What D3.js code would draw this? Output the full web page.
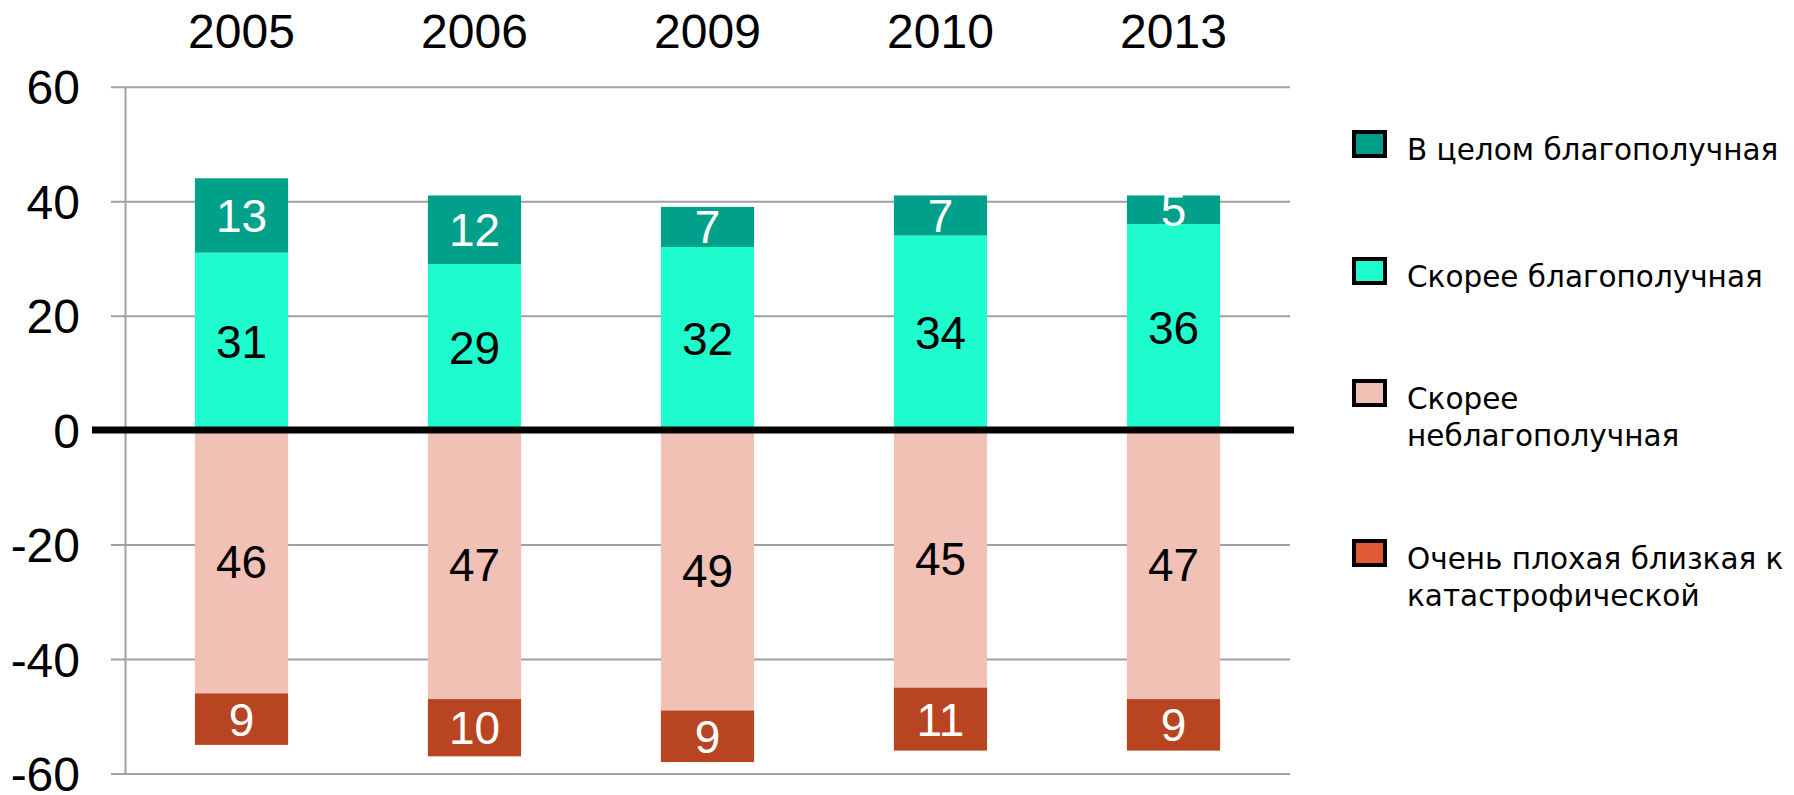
<!DOCTYPE html>
<html>
<head>
<meta charset="utf-8">
<script src="https://cdn.jsdelivr.net/npm/d3@7"></script>
<style>
  body { margin: 0; background: #fff; }
  svg { display: block; }
  .num { font-family: "Liberation Sans", Arial, sans-serif; }
  .legend text { font-family: "DejaVu Sans", sans-serif; font-size: 29.5px; fill: #000; }
</style>
</head>
<body>
<svg id="chart" width="1794" height="795"></svg>
<script>
// years on the top axis
var years = ['2005', '2006', '2009', '2010', '2013'];

// series values, per year
var inGeneralGood = [13, 12, 7, 7, 5];
var ratherGood = [31, 29, 32, 34, 36];
var ratherBad = [46, 47, 49, 45, 47];
var veryBad = [9, 10, 9, 11, 9];

var yTicks = [-60, -40, -20, 0, 20, 40, 60];

var seriesNames = [
  'В целом благополучная',
  'Скорее благополучная',
  'Скорее неблагополучная',
  'Очень плохая близкая к катастрофической'
];

var svg = d3.select('#chart');

var x0 = 125, x1 = 1290;
var x = d3.scaleBand()
  .domain(years)
  .range([x0, x1])
  .paddingInner(0.6)
  .paddingOuter(0.3);

var y = d3.scaleLinear()
  .domain([-60, 60])
  .range([773.5, 86.7]);

// rows for the stack; bad ones go below zero
var rows = years.map(function (yr, i) {
  return {
    year: yr,
    ratherGood: ratherGood[i],
    inGeneralGood: inGeneralGood[i],
    ratherBad: -ratherBad[i],
    veryBad: -veryBad[i]
  };
});

var keys = ['ratherGood', 'inGeneralGood', 'ratherBad', 'veryBad'];
var fills = {
  inGeneralGood: '#00a08a',
  ratherGood: '#1efbcc',
  ratherBad: '#f2c1b6',
  veryBad: '#b84422'
};
var labelColor = {
  inGeneralGood: '#fff',
  ratherGood: '#000',
  ratherBad: '#000',
  veryBad: '#fff'
};

var stack = d3.stack().keys(keys).offset(d3.stackOffsetDiverging);
var layers = stack(rows);

// y axis, with the gridlines as long ticks
var yAxis = svg.append('g')
  .attr('transform', 'translate(' + x0 + ',0)')
  .call(d3.axisLeft(y)
    .tickValues(yTicks)
    .tickSizeInner(-(x1 - x0))
    .tickSizeOuter(0)
    .tickPadding(45)
    .tickFormat(function (d) { return String(d); }));

yAxis.select('.domain')
  .attr('stroke', '#a0a0a0')
  .attr('stroke-width', 2);
yAxis.selectAll('.tick line')
  .attr('x1', -14)
  .attr('stroke', '#a0a0a0')
  .attr('stroke-width', 2);
yAxis.selectAll('.tick text')
  .attr('class', 'num')
  .attr('font-size', 48)
  .attr('fill', '#000')
  .attr('dy', '0.36em');

// year labels on top
var xAxis = svg.append('g')
  .attr('transform', 'translate(0,62)')
  .call(d3.axisTop(x).tickSize(0).tickPadding(14));
xAxis.select('.domain').remove();
xAxis.selectAll('.tick text')
  .attr('class', 'num')
  .attr('font-size', 48)
  .attr('fill', '#000')
  .attr('dy', '0');

// bars
var layerG = svg.append('g')
  .selectAll('g')
  .data(layers)
  .join('g')
  .attr('fill', function (d) { return fills[d.key]; });

layerG.selectAll('rect')
  .data(function (d) { return d; })
  .join('rect')
  .attr('x', function (d) { return x(d.data.year); })
  .attr('width', x.bandwidth())
  .attr('y', function (d) { return y(Math.max(d[0], d[1])); })
  .attr('height', function (d) { return Math.abs(y(d[0]) - y(d[1])); });

// zero line, thick and black
svg.append('line')
  .attr('x1', 92)
  .attr('x2', 1294)
  .attr('y1', y(0))
  .attr('y2', y(0))
  .attr('stroke', '#000')
  .attr('stroke-width', 7);

// value labels in the middle of each piece
layers.forEach(function (layer) {
  svg.append('g')
    .selectAll('text')
    .data(layer)
    .join('text')
    .attr('class', 'num')
    .attr('font-size', 46)
    .attr('fill', labelColor[layer.key])
    .attr('text-anchor', 'middle')
    .attr('dy', '0.36em')
    .attr('x', function (d) { return x(d.data.year) + x.bandwidth() / 2; })
    .attr('y', function (d) { return y((d[0] + d[1]) / 2); })
    .text(function (d) { return Math.abs(d[1] - d[0]); });
});

// legend
var legendKeys = ['inGeneralGood', 'ratherGood', 'ratherBad', 'veryBad'];
var legendFills = ['#00a088', '#1efbcc', '#f2c1b6', '#e05a35'];
var legendLines = [
  [seriesNames[0]],
  [seriesNames[1]],
  ['Скорее', 'неблагополучная'],
  ['Очень плохая близкая к', 'катастрофической']
];
var legendTop = [130, 257, 379, 539];

var legend = svg.append('g').attr('class', 'legend');
var item = legend.selectAll('g')
  .data(legendKeys)
  .join('g')
  .attr('transform', function (d, i) { return 'translate(1352,' + legendTop[i] + ')'; });

item.append('rect')
  .attr('x', 2)
  .attr('y', 2)
  .attr('width', 31)
  .attr('height', 24)
  .attr('fill', function (d, i) { return legendFills[i]; })
  .attr('stroke', '#000')
  .attr('stroke-width', 4);

item.append('text')
  .attr('x', 55)
  .attr('y', 30)
  .selectAll('tspan')
  .data(function (d, i) { return legendLines[i]; })
  .join('tspan')
  .attr('x', 55)
  .attr('dy', function (d, j) { return j === 0 ? 0 : 37; })
  .text(function (d) { return d; });
</script>
</body>
</html>
